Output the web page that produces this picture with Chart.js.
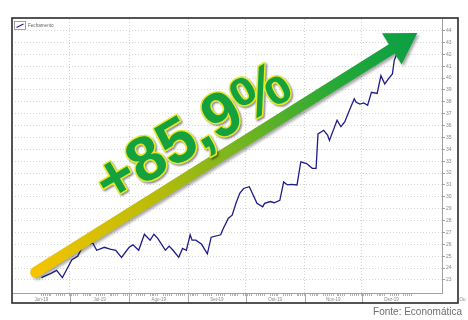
<!DOCTYPE html>
<html>
<head>
<meta charset="utf-8">
<script src="https://cdn.jsdelivr.net/npm/chart.js@4.4.0/dist/chart.umd.min.js"></script>
<style>
  html, body { margin: 0; padding: 0; background: #fff; }
  #wrap { width: 468px; height: 320px; }
</style>
</head>
<body>
<div id="wrap"><canvas id="fechamento"></canvas></div>
<script>
// days counted from 01/06/2019, closing price
const days = [15, 20, 23, 26, 28, 31, 34, 36, 39, 42, 44, 48, 51, 54, 57, 61, 63, 66, 69, 72,
  74, 76, 80, 82, 84, 87, 89, 91, 93, 94, 96, 99, 102, 104, 109, 110, 113, 115, 117, 119,
  121, 124, 126, 128, 131, 132, 135, 137, 140, 142, 144, 146, 149, 151, 154, 157, 159, 160, 163, 165,
  166, 170, 172, 174, 176, 179, 180, 182, 184, 186, 188, 191, 193, 195, 197, 199, 200, 201, 204, 207, 211];
const closes = [23.2, 23.55, 23.8, 23.2, 23.8, 24.7, 25.0, 25.6, 26.0, 26.1, 25.5, 25.75, 25.6, 25.5, 24.9, 25.75, 25.95, 25.5, 26.85, 26.35,
  26.85, 26.5, 25.5, 25.85, 25.5, 24.9, 25.65, 25.5, 26.8, 26.35, 26.35, 26.0, 25.2, 26.6, 26.8, 27.2, 28.2, 28.45, 29.45, 30.3,
  30.7, 30.85, 30.15, 29.45, 29.15, 29.45, 29.6, 29.5, 29.7, 31.25, 31.0, 31.05, 31.0, 32.95, 32.8, 32.4, 32.4, 35.3, 35.6, 35.2,
  34.75, 36.45, 35.9, 36.3, 37.1, 38.25, 37.95, 37.8, 37.9, 37.7, 38.8, 38.7, 40.2, 39.5, 39.95, 40.35, 41.5, 41.9, 42.6, 43.1, 43.75];
const yTicks = [23, 24, 25, 26, 27, 28, 29, 30, 31, 32, 33, 34, 35, 36, 37, 38, 39, 40, 41, 42, 43, 44];
const months = ['Jun-19', 'Jul-19', 'Ago-19', 'Set-19', 'Out-19', 'Nov-19', 'Dez-19'];
const monthStarts = [0, 30, 61, 92, 122, 153, 183, 214];
const gainLabel = '+85,9%';

const monthCenters = months.map((m, i) => (monthStarts[i] + monthStarts[i + 1]) / 2);
const boundaries = monthStarts.slice(1, -1);

// arrow + text anchors in data units
const arrowFrom = { x: 12, y: 23.65 };
const arrowTo = { x: 212, y: 43.8 };
const textAt = { x: 95, y: 35.2 };

const overlay = {
  id: 'overlay',
  afterDatasetsDraw(chart) {
    const { ctx, scales: { x, y } } = chart;
    const p0 = { x: x.getPixelForValue(arrowFrom.x), y: y.getPixelForValue(arrowFrom.y) };
    const p1 = { x: x.getPixelForValue(arrowTo.x), y: y.getPixelForValue(arrowTo.y) };
    const ang = Math.atan2(p1.y - p0.y, p1.x - p0.x);
    const ux = Math.cos(ang), uy = Math.sin(ang);
    const nx = -uy, ny = ux;
    const w = 5.5, headLen = 30, hh = 18.5;
    const bx = p1.x - ux * headLen, by = p1.y - uy * headLen;

    const grad = ctx.createLinearGradient(p0.x, p0.y, p1.x, p1.y);
    grad.addColorStop(0, '#f5c400');
    grad.addColorStop(0.3, '#bcbc08');
    grad.addColorStop(0.55, '#70b422');
    grad.addColorStop(0.8, '#22a838');
    grad.addColorStop(1, '#0a9e44');

    ctx.save();
    ctx.shadowColor = 'rgba(0,0,0,0.35)';
    ctx.shadowBlur = 3;
    ctx.shadowOffsetX = 2;
    ctx.shadowOffsetY = 2;
    ctx.fillStyle = grad;
    ctx.beginPath();
    ctx.moveTo(bx + nx * w, by + ny * w);
    ctx.lineTo(p0.x + nx * w, p0.y + ny * w);
    ctx.arc(p0.x, p0.y, w, ang + Math.PI / 2, ang + 3 * Math.PI / 2, false);
    ctx.lineTo(bx - nx * w, by - ny * w);
    ctx.lineTo(bx - nx * hh, by - ny * hh);
    ctx.lineTo(p1.x, p1.y);
    ctx.lineTo(bx + nx * hh, by + ny * hh);
    ctx.closePath();
    ctx.fill();
    ctx.restore();

    // big percentage text
    const tx = x.getPixelForValue(textAt.x), ty = y.getPixelForValue(textAt.y);
    ctx.save();
    ctx.translate(tx, ty);
    ctx.rotate(-30.5 * Math.PI / 180);
    ctx.font = 'bold 63px "Liberation Sans", Arial, sans-serif';
    ctx.textAlign = 'center';
    ctx.textBaseline = 'middle';
    ctx.lineJoin = 'round';
    ctx.shadowColor = 'rgba(0,0,0,0.45)';
    ctx.shadowBlur = 2;
    ctx.shadowOffsetX = 1.5;
    ctx.shadowOffsetY = 1.5;
    ctx.strokeStyle = '#e8e82c';
    ctx.lineWidth = 3;
    ctx.strokeText(gainLabel, 0, 0);
    ctx.shadowColor = 'transparent';
    ctx.fillStyle = '#15a13d';
    ctx.fillText(gainLabel, 0, 0);
    ctx.restore();
  },
  afterDraw(chart) {
    const { ctx, chartArea: a, scales: { x, y } } = chart;
    const left = a.left, top = a.top - 1, right = y.right, bottom = x.bottom;

    // month separators in the date band
    ctx.save();
    ctx.strokeStyle = '#a8a8a8';
    ctx.lineWidth = 1;
    boundaries.forEach(b => {
      const px = Math.round(x.getPixelForValue(b)) + 0.5;
      ctx.beginPath();
      ctx.moveTo(px, a.bottom);
      ctx.lineTo(px, bottom);
      ctx.stroke();
    });

    // frame
    ctx.strokeStyle = '#2a2a2a';
    ctx.lineWidth = 1.6;
    ctx.strokeRect(left, top, right - left, bottom - top);

    // legend
    ctx.lineWidth = 0.8;
    ctx.strokeStyle = '#8a8a8a';
    ctx.fillStyle = '#fff';
    ctx.fillRect(left + 2.5, top + 3.5, 11, 8);
    ctx.strokeRect(left + 2.5, top + 3.5, 11, 8);
    ctx.strokeStyle = '#1c1c8a';
    ctx.lineWidth = 1.2;
    ctx.beginPath();
    ctx.moveTo(left + 4.5, top + 9.5);
    ctx.lineTo(left + 11.5, top + 6);
    ctx.stroke();
    ctx.fillStyle = '#666';
    ctx.font = '4.6px "Liberation Sans", Arial, sans-serif';
    ctx.textBaseline = 'middle';
    ctx.textAlign = 'left';
    ctx.fillText('Fechamento', left + 16, top + 7.5);

    // unit label past the right axis
    ctx.fillStyle = '#888';
    ctx.fillText('Ou', right + 1.5, x.top + 7);

    // source
    ctx.fillStyle = '#6e6e6e';
    ctx.font = '10px "Liberation Sans", Arial, sans-serif';
    ctx.textAlign = 'right';
    ctx.fillText('Fonte: Economática', 462, 312);
    ctx.restore();
  }
};

const ctx = document.getElementById('fechamento').getContext('2d');
const fechamento = new Chart(ctx, {
  type: 'line',
  data: {
    datasets: [{
      label: 'Fechamento',
      data: days.map((d, i) => ({ x: d, y: closes[i] })),
      borderColor: '#1c1c8a',
      borderWidth: 1.3,
      pointRadius: 0,
      tension: 0
    }]
  },
  options: {
    responsive: true,
    maintainAspectRatio: false,
    animation: false,
    layout: { padding: { left: 12, top: 19, right: 10, bottom: 17 } },
    plugins: {
      legend: { display: false },
      tooltip: { enabled: false }
    },
    scales: {
      x: {
        type: 'linear',
        position: 'bottom',
        min: -0.4,
        max: 225,
        afterBuildTicks: (scale) => {
          const vals = new Set(boundaries);
          monthCenters.forEach(c => vals.add(c));
          for (let d = 15; d <= 211; d++) {
            const dow = (6 + d) % 7;
            if (dow !== 0 && dow !== 6) vals.add(d);
          }
          scale.ticks = [...vals].sort((a, b) => a - b).map(v => ({ value: v }));
        },
        afterFit: (scale) => { scale.height = 10; },
        grid: {
          color: (c) => (c.tick && boundaries.includes(c.tick.value)) ? '#d2d2d2' : 'rgba(0,0,0,0)',
          tickColor: (c) => (c.tick && Number.isInteger(c.tick.value)) ? '#b4b4b4' : 'rgba(0,0,0,0)',
          tickLength: 3,
          lineWidth: 1
        },
        border: { color: '#a0a0a0', dash: [1, 2] },
        ticks: {
          autoSkip: false,
          maxRotation: 0,
          minRotation: 0,
          padding: 1,
          color: '#888',
          font: { size: 4.5, family: '"Liberation Sans", Arial, sans-serif' },
          callback: (v) => {
            const i = monthCenters.indexOf(v);
            return i >= 0 ? months[i] : '';
          }
        }
      },
      y: {
        position: 'right',
        min: 21.9,
        max: 44.97,
        afterBuildTicks: (scale) => { scale.ticks = yTicks.map(v => ({ value: v })); },
        afterFit: (scale) => { scale.width = 16; },
        grid: {
          color: '#d6d6d6',
          tickColor: '#a0a0a0',
          tickLength: 3
        },
        border: { color: '#a0a0a0', dash: [1, 2] },
        ticks: {
          padding: 1,
          color: '#888',
          font: { size: 5, family: '"Liberation Sans", Arial, sans-serif' }
        }
      }
    }
  },
  plugins: [overlay]
});
</script>
</body>
</html>
